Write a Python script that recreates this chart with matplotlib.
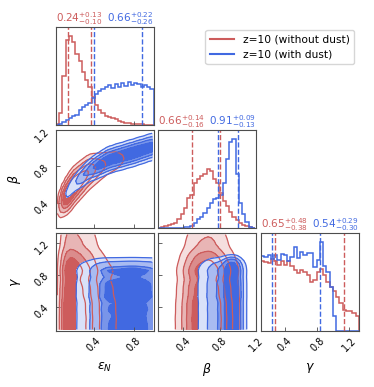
import numpy as np
import matplotlib
matplotlib.use("Agg")
import matplotlib.pyplot as plt
from matplotlib.colors import to_rgba

red = 'indianred'
blue = 'royalblue'

# parameter ranges shown on the axes
eps_range = [0.02, 1.0]
beta_range = [0.12, 1.19]
gamma_range = [0.1, 1.32]

# 1D marginals, 30 bins over each range (height as fraction of panel)
eps_red = [0.01, 0.12, 0.50, 0.87, 0.91, 0.85, 0.73, 0.65, 0.54, 0.46, 0.39, 0.29, 0.20, 0.15, 0.12,
           0.09, 0.08, 0.07, 0.06, 0.045, 0.035, 0.025, 0.02, 0.015, 0.01, 0.01, 0.01, 0.005, 0.005, 0.005]
eps_blue = [0.0, 0.01, 0.03, 0.05, 0.07, 0.09, 0.10, 0.15, 0.18, 0.20, 0.22, 0.28, 0.32, 0.35, 0.37,
            0.39, 0.41, 0.38, 0.42, 0.39, 0.43, 0.40, 0.44, 0.41, 0.43, 0.42, 0.39, 0.41, 0.39, 0.37]
beta_red = [0.0, 0.01, 0.02, 0.03, 0.04, 0.05, 0.09, 0.14, 0.20, 0.30, 0.33, 0.45, 0.50, 0.53, 0.55,
            0.60, 0.58, 0.50, 0.45, 0.35, 0.27, 0.22, 0.16, 0.11, 0.08, 0.05, 0.03, 0.02, 0.01, 0.0]
beta_blue = [0, 0, 0, 0, 0, 0, 0, 0.005, 0.01, 0.01, 0.02, 0.05, 0.09, 0.11, 0.15,
             0.20, 0.25, 0.29, 0.30, 0.33, 0.45, 0.70, 0.87, 0.90, 0.55, 0.25, 0.14, 0.06, 0.01, 0.0]
gamma_red = [0.71, 0.70, 0.69, 0.74, 0.72, 0.67, 0.71, 0.67, 0.72, 0.66, 0.62, 0.59, 0.62, 0.60, 0.57,
             0.50, 0.52, 0.60, 0.63, 0.57, 0.50, 0.45, 0.41, 0.35, 0.29, 0.21, 0.20, 0.20, 0.18, 0.15]
gamma_blue = [0.77, 0.76, 0.78, 0.74, 0.78, 0.73, 0.79, 0.78, 0.72, 0.76, 0.86, 0.75, 0.81, 0.78, 0.80,
              0.80, 0.65, 0.73, 0.91, 0.66, 0.60, 0.45, 0.15, 0, 0, 0, 0, 0, 0, 0]

# beta-eps ridge (banana)
ridge_eps = [0.02, 0.1, 0.2, 0.35, 0.55, 0.8, 1.0]
ridge_red = [0.22, 0.42, 0.58, 0.74, 0.84, 0.92, 0.97]
ridge_blue = [0.32, 0.44, 0.60, 0.75, 0.87, 0.95, 1.02]
width_red = [0.05, 0.07, 0.08, 0.08, 0.08, 0.08, 0.08]
width_blue = [0.04, 0.05, 0.055, 0.06, 0.065, 0.065, 0.065]

# medians and errors (titles)
eps_med, eps_up, eps_lo = [0.24, 0.66], [0.13, 0.22], [0.10, 0.26]
beta_med, beta_up, beta_lo = [0.66, 0.91], [0.14, 0.09], [0.16, 0.13]
gamma_med, gamma_up, gamma_lo = [0.65, 0.54], [0.48, 0.29], [0.38, 0.30]

labels = ['z=10 (without dust)', 'z=10 (with dust)']
colors = [red, blue]
levels = (0.5, 0.7, 0.85, 0.95)


def edges_of(rng, n=30):
    return np.linspace(rng[0], rng[1], n + 1)


def centers_of(rng, n=30):
    e = edges_of(rng, n)
    return 0.5 * (e[1:] + e[:-1])


def smooth(H, s=1.0):
    k = np.exp(-0.5 * (np.arange(-3, 4) / s) ** 2)
    k /= k.sum()
    P = np.pad(H, 3, mode='edge')
    P = np.apply_along_axis(lambda v: np.convolve(v, k, mode='same'), 0, P)
    P = np.apply_along_axis(lambda v: np.convolve(v, k, mode='same'), 1, P)
    return P[3:-3, 3:-3]


def hpd_levels(H):
    Hflat = np.sort(H.flatten())[::-1]
    sm = np.cumsum(Hflat)
    sm /= sm[-1]
    V = []
    for v0 in levels:
        ok = Hflat[sm <= v0]
        V.append(ok[-1] if len(ok) else Hflat[0])
    return np.sort(V)


def fill2d(ax, x, y, H, c):
    V = hpd_levels(H)
    top = H.max() * 1.0001
    ax.contourf(x, y, H, [V[0], top], colors=['white'])
    rgba = [to_rgba(c, a) for a in (0.2, 0.45, 0.7, 1.0)]
    ax.contourf(x, y, H, list(V) + [top], colors=rgba)


def lines2d(ax, x, y, H, c):
    V = hpd_levels(H)
    ax.contour(x, y, H, V, colors=[c], linewidths=0.9)


ec = centers_of(eps_range)
bc = centers_of(beta_range)
gc = centers_of(gamma_range)
db = bc[1] - bc[0]

banana = []
for hist, ridge, width in [(eps_red, ridge_red, width_red), (eps_blue, ridge_blue, width_blue)]:
    mu = np.interp(ec, ridge_eps, ridge)
    sd = np.interp(ec, ridge_eps, width)
    cond = np.exp(-0.5 * ((bc[:, None] - mu[None, :]) / sd[None, :]) ** 2) / sd[None, :]
    banana.append(smooth(cond * np.array(hist)[None, :] * db, 0.7))

ge = [smooth(np.outer(gamma_red, eps_red)), smooth(np.outer(gamma_blue, eps_blue))]
gb = [smooth(np.outer(gamma_red, beta_red)), smooth(np.outer(gamma_blue, beta_blue))]

fig = plt.figure(figsize=(3.74, 3.87), dpi=100)
W, Hf = 374.0, 387.0
lefts = [55.7, 158.0, 261.0]
tops = [27.0, 130.0, 233.0]
size = 98.0


def make_ax(r, c):
    return fig.add_axes([lefts[c] / W, 1 - (tops[r] + size) / Hf, size / W, size / Hf])


axes = {}
for r in range(3):
    for c in range(r + 1):
        axes[(r, c)] = make_ax(r, c)

ranges = [eps_range, beta_range, gamma_range]
ticks = [[0.4, 0.8], [0.4, 0.8, 1.2], [0.4, 0.8, 1.2]]
names = [r'$\epsilon_N$', r'$\beta$', r'$\gamma$']
hists = [[eps_red, eps_blue], [beta_red, beta_blue], [gamma_red, gamma_blue]]
meds = [eps_med, beta_med, gamma_med]
ups = [eps_up, beta_up, gamma_up]
los = [eps_lo, beta_lo, gamma_lo]

# diagonal histograms
for k in range(3):
    ax = axes[(k, k)]
    e = edges_of(ranges[k])
    for j in range(2):
        ax.stairs(hists[k][j], e, color=colors[j], lw=1.1)
        for q in [meds[k][j] - los[k][j], meds[k][j] + ups[k][j]]:
            ax.axvline(q, color=colors[j], ls='--', lw=1.0)
    ax.set_ylim(0, 1.1 * max(max(hists[k][0]), max(hists[k][1])))
    ax.set_yticks([])
    t = ['{:.2f}$^{{+{:.2f}}}_{{-{:.2f}}}$'.format(meds[k][j], ups[k][j], los[k][j]) for j in range(2)]
    ax.set_title(t[0], loc='left', color=red, fontsize=7.5, pad=2)
    ax.set_title(t[1], loc='right', color=blue, fontsize=7.5, pad=2)

# 2d panels
pairs = {(1, 0): (ec, bc, banana), (2, 0): (ec, gc, ge), (2, 1): (bc, gc, gb)}
for key, (x, y, Hs) in pairs.items():
    ax = axes[key]
    fill2d(ax, x, y, Hs[0], red)
    fill2d(ax, x, y, Hs[1], blue)
    lines2d(ax, x, y, Hs[0], red)
    lines2d(ax, x, y, Hs[1], blue)
    ax.set_ylim(ranges[key[0]])

for (r, c), ax in axes.items():
    ax.set_xlim(ranges[c])
    ax.set_xticks(ticks[c])
    ax.tick_params(direction='in', length=3, width=0.6, labelsize=7, color='0.3')
    for s in ax.spines.values():
        s.set_color('0.3')
    if r == 2:
        for l in ax.get_xticklabels():
            l.set_rotation(45)
        ax.set_xlabel(names[c], fontsize=9)
        ax.xaxis.set_label_coords(0.5, -0.31)
    else:
        ax.set_xticklabels([])
    if c == 0 and r > 0:
        ax.set_yticks(ticks[r])
        for l in ax.get_yticklabels():
            l.set_rotation(45)
        ax.set_ylabel(names[r], fontsize=9)
        ax.yaxis.set_label_coords(-0.33, 0.5)
    elif r != c:
        ax.set_yticks(ticks[r])
        ax.set_yticklabels([])

handles = [plt.Line2D([], [], color=c, lw=1.5) for c in colors]
fig.legend(handles, labels, loc='upper right', bbox_to_anchor=(354 / W, 1 - 30 / Hf),
           fontsize=7.7, handlelength=2.3, borderaxespad=0)

fig.savefig('out.png', dpi=100)
